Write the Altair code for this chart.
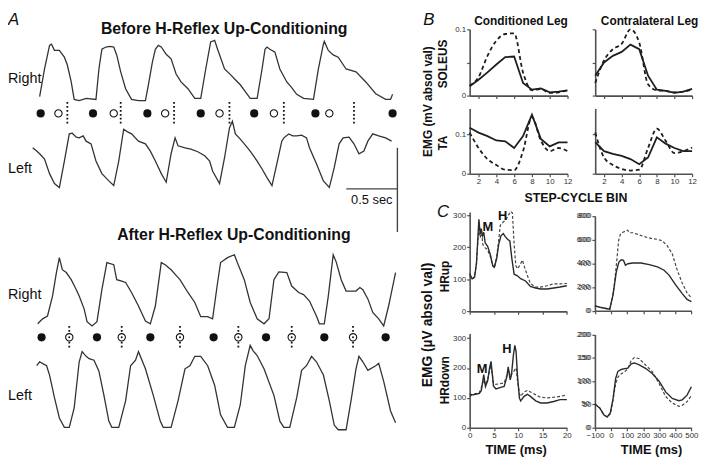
import altair as alt
import pandas as pd

# ---------------- Panel A: rectified EMG traces (time in s, normalised amplitude) ----------------
before_right = [(0.0,0.07),(0.048,0.56),(0.097,0.98),(0.116,1.0),(0.145,0.89),(0.193,0.89),(0.242,0.77),(0.271,0.63),
    (0.309,0.33),(0.338,0.02),(0.387,0.0),(0.455,0.04),(0.551,0.02),(0.580,0.56),(0.609,0.91),(0.648,0.95),(0.687,0.96),
    (0.725,0.95),(0.754,0.81),(0.793,0.51),(0.841,0.21),(0.899,0.02),(0.967,0.0),(1.035,0.0),(1.064,0.28),(1.103,0.68),
    (1.132,0.91),(1.161,0.98),(1.190,0.95),(1.238,0.82),(1.286,0.74),(1.335,0.47),(1.383,0.33),(1.451,0.21),(1.518,0.04),
    (1.576,0.04),(1.625,0.56),(1.673,1.04),(1.712,1.07),(1.741,0.91),(1.809,0.56),(1.867,0.46),(1.915,0.37),(1.963,0.28),
    (2.012,0.16),(2.060,0.04),(2.128,0.04),(2.176,0.56),(2.205,0.91),(2.224,0.95),(2.253,0.91),(2.302,0.86),(2.350,0.56),
    (2.418,0.33),(2.466,0.23),(2.515,0.11),(2.582,0.04),(2.679,0.02),(2.727,0.56),(2.776,1.0),(2.785,1.05),(2.824,0.89),
    (2.872,0.81),(2.921,0.77),(2.998,0.56),(3.095,0.51),(3.191,0.33),(3.288,0.12),(3.385,0.02),(3.433,0.02),(3.453,0.11)]
before_left = [(-0.068,0.60),(-0.029,0.55),(0.0,0.51),(0.048,0.43),(0.097,0.21),(0.145,0.06),(0.193,0.0),(0.242,0.40),
    (0.290,0.81),(0.319,0.82),(0.358,0.76),(0.387,0.75),(0.426,0.78),(0.455,0.70),(0.503,0.66),(0.551,0.40),(0.609,0.21),
    (0.677,0.10),(0.725,0.03),(0.774,0.40),(0.822,0.88),(0.861,0.84),(0.899,0.81),(0.967,0.70),(1.035,0.66),(1.083,0.55),
    (1.132,0.40),(1.190,0.21),(1.238,0.08),(1.286,0.51),(1.325,0.75),(1.354,0.63),(1.422,0.60),(1.480,0.58),(1.547,0.54),
    (1.615,0.48),(1.663,0.40),(1.692,0.25),(1.760,0.06),(1.809,0.45),(1.857,0.90),(1.886,1.0),(1.915,0.81),(1.963,0.73),
    (2.002,0.66),(2.060,0.55),(2.128,0.40),(2.176,0.28),(2.224,0.15),(2.273,0.03),(2.321,0.36),(2.369,0.70),(2.389,0.75),
    (2.437,0.81),(2.476,0.78),(2.515,0.78),(2.563,0.79),(2.611,0.75),(2.640,0.60),(2.708,0.36),(2.776,0.10),(2.834,0.0),
    (2.882,0.30),(2.930,0.66),(2.969,0.75),(3.027,0.76),(3.075,0.66),(3.124,0.51),(3.172,0.55),(3.211,0.70),(3.259,0.81),
    (3.317,0.78),(3.385,0.75),(3.443,0.70)]
after_right = [(-0.019,0.03),(0.029,0.10),(0.077,0.14),(0.126,0.42),(0.164,0.75),(0.193,0.96),(0.222,0.79),(0.261,0.75),
    (0.309,0.65),(0.348,0.54),(0.387,0.42),(0.435,0.24),(0.464,0.06),(0.513,0.0),(0.561,0.06),(0.609,0.51),(0.658,0.89),
    (0.725,0.86),(0.754,0.65),(0.803,0.63),(0.841,0.61),(0.899,0.47),(0.967,0.28),(1.035,0.07),(1.083,0.03),(1.132,0.28),
    (1.190,0.89),(1.228,0.86),(1.286,0.79),(1.335,0.71),(1.373,0.65),(1.451,0.47),(1.518,0.33),(1.576,0.13),(1.644,0.13),
    (1.692,0.10),(1.741,0.61),(1.770,0.89),(1.838,0.96),(1.905,1.0),(1.934,0.89),(2.002,0.65),(2.060,0.33),(2.128,0.10),
    (2.195,0.03),(2.244,0.10),(2.292,0.65),(2.340,0.76),(2.418,0.75),(2.466,0.56),(2.534,0.47),(2.582,0.44),(2.640,0.35),
    (2.708,0.14),(2.737,0.03),(2.785,0.03),(2.824,0.42),(2.872,1.0),(2.901,0.90),(2.950,0.65),(2.998,0.49),(3.046,0.49),
    (3.095,0.49),(3.133,0.54),(3.162,0.51),(3.211,0.38),(3.259,0.19),(3.317,0.10),(3.366,0.0),(3.414,0.28),(3.482,0.75)]
after_left = [(-0.029,0.82),(0.0,0.87),(0.039,0.84),(0.068,0.82),(0.097,0.70),(0.145,0.41),(0.193,0.15),(0.242,0.03),
    (0.290,0.03),(0.338,0.28),(0.387,0.87),(0.416,1.0),(0.455,0.94),(0.484,0.91),(0.532,0.89),(0.580,0.75),(0.629,0.44),
    (0.677,0.11),(0.706,0.03),(0.774,0.03),(0.841,0.37),(0.890,0.82),(0.938,0.89),(0.967,1.0),(1.035,0.78),(1.112,0.44),
    (1.180,0.11),(1.209,0.03),(1.286,0.03),(1.354,0.37),(1.422,0.78),(1.470,0.82),(1.518,0.94),(1.576,0.94),(1.644,0.82),
    (1.712,0.57),(1.770,0.19),(1.838,0.03),(1.905,0.03),(1.963,0.32),(2.012,0.82),(2.060,1.08),(2.089,1.01),(2.128,0.95),
    (2.195,0.78),(2.292,0.44),(2.350,0.11),(2.389,0.03),(2.447,0.03),(2.515,0.41),(2.563,0.76),(2.611,0.82),(2.660,0.94),
    (2.708,0.87),(2.776,0.70),(2.834,0.37),(2.882,0.06),(2.921,0.0),(2.998,0.0),(3.046,0.37),(3.095,0.78),(3.124,0.94),
    (3.162,0.87),(3.211,0.76),(3.288,0.82),(3.317,0.85),(3.366,0.62),(3.433,0.24),(3.482,0.09)]

before_filled = [0.010, 0.522, 1.054, 1.576, 2.099, 2.698, 3.453]
before_open = [0.184, 0.725, 1.228, 1.760, 2.292, 2.834]
before_stim = [0.271, 0.793, 1.315, 1.857, 2.389, 3.075]
after_filled = [0.019, 0.561, 1.083, 1.702, 2.215, 2.785, 3.385]
after_open_stim = [0.290, 0.803, 1.373, 1.944, 2.466, 3.066]

scalebar_time = [3.0, 3.5]        # 0.5 s horizontal bar
scalebar_amp_h = -0.02
scalebar_amp_v = [0.60, -0.67]

# ---------------- Panel B: step-cycle bins (mV) ----------------
bins = list(range(1, 13))
cond_sol_before = [0.014, 0.024, 0.035, 0.047, 0.058, 0.059, 0.019, 0.009, 0.011, 0.005, 0.006, 0.008]
cond_sol_after = [0.015, 0.028, 0.060, 0.083, 0.093, 0.094, 0.035, 0.008, 0.010, 0.004, 0.005, 0.008]
contra_sol_before = [0.030, 0.050, 0.060, 0.066, 0.077, 0.070, 0.030, 0.009, 0.007, 0.004, 0.006, 0.010]
contra_sol_after = [0.019, 0.053, 0.070, 0.078, 0.100, 0.080, 0.017, 0.008, 0.007, 0.005, 0.006, 0.009]
cond_ta_before = [0.116, 0.104, 0.095, 0.084, 0.082, 0.065, 0.095, 0.149, 0.088, 0.069, 0.079, 0.079]
cond_ta_after = [0.104, 0.065, 0.037, 0.022, 0.010, 0.009, 0.057, 0.143, 0.084, 0.057, 0.065, 0.057]
contra_ta_before = [0.080, 0.057, 0.050, 0.045, 0.037, 0.024, 0.041, 0.092, 0.076, 0.065, 0.057, 0.057]
contra_ta_after = [0.104, 0.041, 0.022, 0.012, 0.008, 0.010, 0.065, 0.114, 0.083, 0.052, 0.057, 0.066]

# ---------------- Panel C: (time ms, uV) ----------------
up_fast_before = [(0,118),(0.5,102),(1.0,106),(1.4,150),(1.9,287),(2.17,241),(2.37,258),(2.64,236),(2.9,247),(3.19,214),
    (3.7,203),(4.27,176),(4.75,143),(5.08,138),(5.56,165),(5.97,209),(6.44,236),(6.92,243),(7.32,233),(7.8,225),(8.27,220),
    (8.68,165),(9.15,116),(9.83,111),(10.5,102),(11.5,95),(12.5,78),(13.56,73),(14.6,70),(15.9,70),(17.3,73),(18.6,76),(20,80)]
up_fast_after = [(0,112),(0.5,100),(1.0,108),(1.4,150),(1.9,264),(2.17,230),(2.45,252),(2.7,209),(3.19,198),(3.7,192),
    (4.27,170),(4.75,142),(5.08,136),(5.56,171),(5.97,220),(6.3,268),(6.92,279),(7.45,285),(8.0,301),(8.47,312),(8.8,307),
    (9.15,209),(9.5,143),(9.83,133),(10.3,143),(10.85,160),(11.3,138),(11.9,111),(12.5,87),(13.56,76),(14.6,76),(15.9,80),
    (17.3,86),(18.6,86),(20,87)]
up_slow_before = [(-100,41),(-69,30),(-39,22),(-8,14),(13,137),(33,329),(49,411),(64,430),(78,425),(90,384),(105,397),
    (135,403),(187,403),(238,389),(289,370),(330,342),(361,301),(402,219),(443,145),(473,96),(500,77)]
up_slow_after = [(-100,41),(-69,30),(-39,22),(-8,10),(9,110),(23,247),(37,438),(47,589),(58,644),(74,663),(90,671),(103,680),
    (115,658),(135,658),(166,644),(197,630),(228,617),(258,608),(289,603),(320,589),(350,548),(381,480),(412,343),(443,233),
    (473,151),(500,110)]
down_fast_before = [(0,112),(0.7,110),(1.4,113),(2.0,115),(2.4,125),(2.9,178),(3.25,138),(3.7,157),(4.1,200),(4.4,222),
    (4.9,140),(5.4,130),(6.4,135),(7.1,138),(7.66,171),(7.93,204),(8.34,160),(8.6,176),(9.0,243),(9.3,276),(9.56,254),
    (9.83,176),(10.24,99),(10.5,90),(11.2,105),(11.9,112),(12.5,105),(13.6,90),(14.6,83),(15.9,83),(17.3,88),(18.6,94),(20,94)]
down_fast_after = [(0,105),(0.7,112),(1.4,115),(2.0,118),(2.4,135),(2.9,160),(3.25,145),(3.7,160),(4.1,190),(4.4,210),
    (4.9,150),(5.4,145),(6.4,148),(7.1,150),(7.66,175),(7.93,195),(8.34,175),(8.6,180),(9.0,185),(9.3,195),(9.56,200),
    (9.83,160),(10.24,115),(10.5,105),(11.2,120),(11.9,125),(12.5,120),(13.6,110),(14.6,102),(15.9,100),(17.3,102),(18.6,105),(20,110)]
down_slow_before = [(-100,51),(-69,42),(-45,28),(-24,23),(-4,32),(13,63),(29,106),(43,121),(64,125),(84,127),(105,128),
    (125,137),(146,139),(176,135),(217,127),(258,116),(299,100),(340,77),(381,63),(422,58),(443,60),(473,70),(500,88)]
down_slow_after = [(-100,51),(-69,42),(-45,28),(-24,23),(-4,30),(13,60),(29,95),(43,109),(64,116),(84,120),(105,127),
    (125,144),(146,151),(176,148),(217,134),(258,120),(299,95),(340,67),(381,53),(422,46),(443,48),(473,56),(500,69)]

up_slow_ticks = [0, 200, 400, 600, 800]
down_slow_ticks = [0, 50, 100, 150, 200]

# ---------------- layout helpers ----------------
OX = OY = 8
W, H = 700, 452
FONT = "Liberation Sans, Arial, Helvetica, sans-serif"
NARROW = "Liberation Sans Narrow, Arial Narrow, Liberation Sans, Arial, sans-serif"
AXC = "#505050"
INK = "#1e1e1e"


def hx(v):
    return v - OX


def vy(v):
    return v - OY


def xsc(domain, page):
    return alt.Scale(domain=domain, range=[hx(page[0]), hx(page[1])], nice=False, zero=False)


def ysc(domain, page):
    return alt.Scale(domain=domain, range=[vy(page[0]), vy(page[1])], nice=False, zero=False)


def left_axis(page_x, values, show=True, expr=None, fmt=None):
    kw = dict(orient="left", offset=-hx(page_x), values=values, title=None, grid=False,
              domainColor=AXC, domainWidth=1.6, tickColor=AXC, tickWidth=1.2, tickSize=3,
              labels=True, labelOpacity=1 if show else 0, labelFont=FONT, labelFontSize=8,
              labelColor="#333", labelPadding=1, labelAlign="right", labelBaseline="middle",
              labelFlush=False, labelOverlap=False, labelBound=False)
    if expr:
        kw["labelExpr"] = expr
    if fmt:
        kw["format"] = fmt
    return alt.Axis(**kw)


def bottom_axis(page_y, values, show=True):
    return alt.Axis(orient="bottom", offset=vy(page_y) - H, values=values, title=None, grid=False,
                    domainColor=AXC, domainWidth=1.6, tickColor=AXC, tickWidth=1.2, tickSize=3,
                    labels=True, labelOpacity=1 if show else 0, labelFont=FONT, labelFontSize=8,
                    labelColor="#333", labelPadding=1, labelFlush=False, labelOverlap=False)


dummy = pd.DataFrame({"k": [0]})


def label(text, x, y, size, weight="normal", italic=False, angle=0, align="center",
          baseline="alphabetic", font=FONT, color="#111"):
    kw = dict(text=text, fontSize=size, fontWeight=weight, align=align, baseline=baseline,
              font=font, color=color)
    if angle:
        kw["angle"] = angle
    if italic:
        kw["fontStyle"] = "italic"
    return alt.Chart(dummy).mark_text(**kw).encode(x=alt.value(hx(x)), y=alt.value(vy(y)))


layers = []

# ---------------- Panel A ----------------
T_DOM = [0, 3.5]
T_PAGE = [40, 40 + 3.5 * 103.4]
BR_Y, BL_Y, AR_Y, AL_Y = [99, 42], [187, 120], [327, 255], [432, 353]


def trace(pairs, ypage):
    df = pd.DataFrame(pairs, columns=["t", "amp"])
    return alt.Chart(df).mark_line(color="#333", strokeWidth=1.3).encode(
        x=alt.X("t:Q", scale=xsc(T_DOM, T_PAGE), axis=None),
        y=alt.Y("amp:Q", scale=ysc([0, 1], ypage), axis=None))


for pairs, yp in [(before_right, BR_Y), (before_left, BL_Y), (after_right, AR_Y), (after_left, AL_Y)]:
    layers.append(trace(pairs, yp))

ROWS = ["before", "after"]


def markers(times, row, **mk):
    df = pd.DataFrame({"t": times, "row": [row] * len(times)})
    return alt.Chart(df).mark_point(**mk).encode(
        x=alt.X("t:Q", scale=xsc(T_DOM, T_PAGE), axis=None),
        y=alt.Y("row:N", scale=alt.Scale(domain=ROWS, range=[vy(112), vy(338.5)], padding=0), axis=None))


dots = dict(shape="M0,-1L0,1", size=529, filled=False, stroke="#111", strokeWidth=1.8,
            strokeDash=[1.8, 2.2], opacity=1)
full = dict(shape="circle", filled=True, color="#111", size=68, opacity=1)
hollow = dict(shape="circle", fill="white", fillOpacity=1, stroke="#111", strokeWidth=1.1, size=55, opacity=1)
layers += [
    markers(before_stim, "before", **dots),
    markers(before_filled, "before", **full),
    markers(before_open, "before", **hollow),
    markers(after_open_stim, "after", **dots),
    markers(after_filled, "after", **full),
    markers(after_open_stim, "after", **hollow),
    markers(after_open_stim, "after", shape="circle", filled=True, color="#111", size=4, opacity=1),
]

sb_h = pd.DataFrame({"t0": [scalebar_time[0]], "t1": [scalebar_time[1]], "amp": [scalebar_amp_h]})
sb_v = pd.DataFrame({"t": [scalebar_time[1]], "a0": [scalebar_amp_v[0]], "a1": [scalebar_amp_v[1]]})
layers.append(alt.Chart(sb_h).mark_rule(color="#444", strokeWidth=1.4).encode(
    x=alt.X("t0:Q", scale=xsc(T_DOM, T_PAGE), axis=None), x2="t1:Q",
    y=alt.Y("amp:Q", scale=ysc([0, 1], BL_Y), axis=None)))
layers.append(alt.Chart(sb_v).mark_rule(color="#444", strokeWidth=1.4).encode(
    x=alt.X("t:Q", scale=xsc(T_DOM, T_PAGE), axis=None),
    y=alt.Y("a0:Q", scale=ysc([0, 1], BL_Y), axis=None), y2="a1:Q"))

layers += [
    label("A", 8, 23, 17, italic=True, align="left"),
    label("Before H-Reflex Up-Conditioning", 226.7, 32, 16, weight="bold"),
    label("After H-Reflex Up-Conditioning", 236.5, 240, 16, weight="bold"),
    label("Right", 8, 81, 14.5, align="left"),
    label("Left", 8, 172, 14.5, align="left"),
    label("Right", 8, 300, 14.5, align="left"),
    label("Left", 8, 402, 14.5, align="left"),
    label("0.5 sec", 376, 204, 13),
]

# ---------------- Panel B ----------------
BX_L, BX_R = [475, 574], [602, 700]
SOL_Y, TA_Y = [94, 27], [173, 107]
SOL_DOM, TA_DOM = [0, 0.1], [0, 0.165]
EVEN = [2, 4, 6, 8, 10, 12]


def bplot(before, after, xpage, ypage, ydom, yvals, xlabels, ylabels, yexpr=None):
    out = []
    for vals, dashed in [(after, True), (before, False)]:
        df = pd.DataFrame({"bin": bins, "emg": vals})
        mk = dict(color=INK, strokeWidth=1.8)
        if dashed:
            mk.update(strokeDash=[4, 3], interpolate="monotone")
        xa = None if dashed else bottom_axis(ypage[0], EVEN, xlabels)
        ya = None if dashed else left_axis(xpage[0], yvals, ylabels, yexpr, ".2~f")
        out.append(alt.Chart(df).mark_line(**mk).encode(
            x=alt.X("bin:Q", scale=xsc([1, 12], xpage), axis=xa),
            y=alt.Y("emg:Q", scale=ysc(ydom, ypage), axis=ya)))
    return out


lbl_expr = "datum.value == 0.05 ? '' : datum.label"
layers += bplot(cond_sol_before, cond_sol_after, BX_L, SOL_Y, SOL_DOM, [0, 0.05, 0.1], False, True, lbl_expr)
layers += bplot(contra_sol_before, contra_sol_after, BX_R, SOL_Y, SOL_DOM, [0, 0.05, 0.1], False, False)
layers += bplot(cond_ta_before, cond_ta_after, BX_L, TA_Y, TA_DOM, [0, 0.1], True, True)
layers += bplot(contra_ta_before, contra_ta_after, BX_R, TA_Y, TA_DOM, [0, 0.1], True, False)

layers += [
    label("B", 428, 23, 17, italic=True, align="left"),
    label("Conditioned Leg", 527, 23, 12, weight="bold"),
    label("Contralateral Leg", 657, 23, 12, weight="bold"),
    label("EMG (mV absol val)", 433, 100, 12, weight="bold", angle=270, baseline="middle"),
    label("SOLEUS", 448, 62, 12, weight="bold", angle=270, baseline="middle"),
    label("TA", 448, 142, 12, weight="bold", angle=270, baseline="middle"),
    label("STEP-CYCLE BIN", 582.5, 202, 12.5, weight="bold", font=NARROW),
]

# ---------------- Panel C ----------------
CX_L, CX_R = [475, 573.3], [601.7, 699.3]


def cplot(before, after, xdom, xpage, xvals, xlabels, ydom, ypage, yvals):
    out = []
    for pairs, dashed in [(after, True), (before, False)]:
        df = pd.DataFrame(pairs, columns=["ms", "uv"])
        mk = dict(color="#2a2a2a", strokeWidth=1.4)
        if dashed:
            mk.update(strokeDash=[3, 2], color="#444", strokeWidth=1.2)
        xa = None if dashed else bottom_axis(ypage[0], xvals, xlabels)
        ya = None if dashed else left_axis(xpage[0], yvals, True)
        out.append(alt.Chart(df).mark_line(**mk).encode(
            x=alt.X("ms:Q", scale=xsc(xdom, xpage), axis=xa),
            y=alt.Y("uv:Q", scale=ysc(ydom, ypage), axis=ya)))
    return out


def tick_text(values, xdom, xpage, ydom, ypage):
    """y tick labels for the right-hand column, drawn through the plot's own scales"""
    df = pd.DataFrame({"v": values, "x0": [xdom[0]] * len(values)})
    return alt.Chart(df).mark_text(align="right", baseline="middle", dx=-5, fontSize=8,
                                   font=FONT, color="#333").encode(
        x=alt.X("x0:Q", scale=xsc(xdom, xpage), axis=None),
        y=alt.Y("v:Q", scale=ysc(ydom, ypage), axis=None),
        text="v:Q")


FAST_X = [0, 5, 10, 15, 20]
SLOW_X = [-100, 0, 100, 200, 300, 400, 500]
C1 = ([0, 310], [312.3, 312.3 - 310 * 0.3243])
C2 = ([0, 800], [311.7, 215.7])
C3 = ([0, 315], [430, 430 - 315 * 0.3023])
C4 = ([0, 200], [430, 335.7])
layers += cplot(up_fast_before, up_fast_after, [0, 20], CX_L, FAST_X, False, C1[0], C1[1], [0, 100, 200, 300])
layers += cplot(up_slow_before, up_slow_after, [-100, 500], CX_R, SLOW_X, False, C2[0], C2[1], up_slow_ticks)
layers += cplot(down_fast_before, down_fast_after, [0, 20], CX_L, FAST_X, True, C3[0], C3[1], [0, 100, 200, 300])
layers += cplot(down_slow_before, down_slow_after, [-100, 500], CX_R, SLOW_X, True, C4[0], C4[1], down_slow_ticks)
layers.append(tick_text(up_slow_ticks, [-100, 500], CX_R, C2[0], C2[1]))
layers.append(tick_text(down_slow_ticks, [-100, 500], CX_R, C4[0], C4[1]))

# M / H wave labels placed in data coordinates of their plots
peak_labels_up = pd.DataFrame({"ms": [3.75, 6.8], "uv": [262, 298], "wave": ["M", "H"]})
peak_labels_down = pd.DataFrame({"ms": [2.55, 7.65], "uv": [195, 265], "wave": ["M", "H"]})
for df, cy in [(peak_labels_up, C1), (peak_labels_down, C3)]:
    layers.append(alt.Chart(df).mark_text(fontSize=13, fontWeight="bold", font=FONT, color="#111",
                                          baseline="middle").encode(
        x=alt.X("ms:Q", scale=xsc([0, 20], CX_L), axis=None),
        y=alt.Y("uv:Q", scale=ysc(cy[0], cy[1]), axis=None),
        text="wave:N"))

layers += [
    label("C", 442, 217, 17, italic=True, align="left"),
    label("EMG (µV absol val)", 433, 326, 14, weight="bold", angle=270, baseline="middle"),
    label("HRup", 450, 277, 12, weight="bold", angle=270, baseline="middle"),
    label("HRdown", 450, 382, 12, weight="bold", angle=270, baseline="middle"),
    label("TIME (ms)", 522, 457, 13, weight="bold", font=NARROW),
    label("TIME (ms)", 659, 457, 13, weight="bold", font=NARROW),
]

chart = alt.layer(*layers).resolve_scale(x="independent", y="independent").properties(
    width=W, height=H, padding=0, autosize=alt.AutoSizeParams(type="none"), background="white"
).configure_view(stroke=None)

chart.save("out.html", embed_options={"renderer": "svg", "actions": False})
